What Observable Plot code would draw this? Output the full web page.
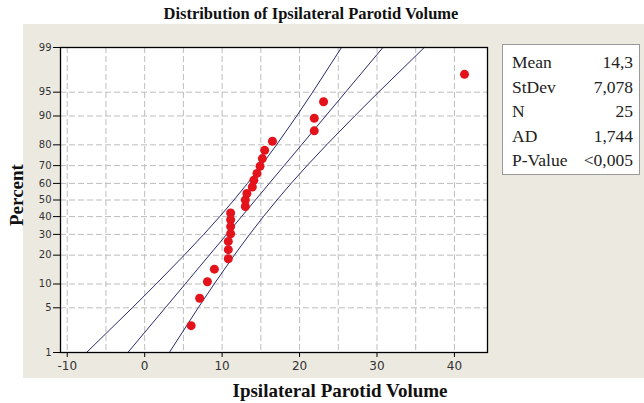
<!DOCTYPE html>
<html>
<head>
<meta charset="utf-8">
<script src="https://cdn.jsdelivr.net/npm/d3@7"></script>
<script src="https://cdn.jsdelivr.net/npm/@observablehq/plot@0.6"></script>
<style>
  html, body { margin: 0; padding: 0; background: #ffffff; }
  #wrap { position: relative; width: 644px; height: 403px; overflow: hidden; background: #ffffff; }
  #panel { position: absolute; left: 23px; top: 24px; width: 621px; height: 354px; background: #ece9e0; }
  #chart { position: absolute; left: 0; top: 0; }
  .ttl { position: absolute; font-family: "Liberation Serif", "DejaVu Serif", serif; font-weight: bold; color: #111; white-space: nowrap; }
  #stats { position: absolute; left: 502px; top: 44px; width: 138px; height: 131px; background: #fff; border: 1px solid #9a9a9a; box-sizing: border-box;
           font-family: "Liberation Serif", "DejaVu Serif", serif; font-size: 17.5px; color: #222; }
  #stats .row { position: absolute; left: 9px; right: 6px; height: 22px; line-height: 22px; }
  #stats .row span.l { position: absolute; left: 0; }
  #stats .row span.v { position: absolute; right: 0; }
</style>
</head>
<body>
<div id="wrap">
  <div id="panel"></div>
  <div id="chart"></div>
  <div class="ttl" id="title" style="left:0; width:622px; top:4px; font-size:16.5px; text-align:center;">Distribution of Ipsilateral Parotid Volume</div>
  <div class="ttl" id="xlab" style="left:0; width:680px; top:380px; font-size:19px; text-align:center;">Ipsilateral Parotid Volume</div>
  <div class="ttl" id="ylab" style="left:-13px; top:185px; width:60px; font-size:19px; text-align:center; transform: rotate(-90deg);">Percent</div>
  <div id="stats"></div>
</div>
<script>
// ---- data ----
const volumes = [6.0, 7.1, 8.1, 9.0, 10.8, 10.8, 10.8, 11.1, 11.1, 11.1, 11.1, 13.0, 13.0, 13.2, 13.9, 14.1, 14.5, 14.9, 15.2, 15.5, 16.5, 21.9, 21.9, 23.1, 41.3];
const percents = [2.76, 6.69, 10.63, 14.57, 18.50, 22.44, 26.38, 30.31, 34.25, 38.19, 42.13, 46.06, 50.00, 53.94, 57.87, 61.81, 65.75, 69.69, 73.62, 77.56, 81.50, 85.43, 89.37, 93.31, 97.24];

// fitted line and 95% confidence band, at the percent tick levels
const bandPercents = [1, 5, 10, 20, 30, 40, 50, 60, 70, 80, 90, 95, 99];
const fitLine  = [-2.17, 2.66, 5.23, 8.34, 10.59, 12.51, 14.30, 16.09, 18.01, 20.26, 23.37, 25.94, 30.77];
const bandLow  = [-7.51, -1.60, 1.48, 5.11, 7.63, 9.69, 11.53, 13.27, 15.05, 17.03, 19.63, 21.69, 25.42];
const bandHigh = [3.18, 6.91, 8.97, 11.57, 13.55, 15.33, 17.08, 18.91, 20.97, 23.49, 27.12, 30.20, 36.11];

const yTickLabels = [1, 5, 10, 20, 30, 40, 50, 60, 70, 80, 90, 95, 99];
const xTickValues = [-10, 0, 10, 20, 30, 40];
const xGridValues = [-10, -5, 0, 5, 10, 15, 20, 25, 30, 35, 40];

const statLabels = ["Mean", "StDev", "N", "AD", "P-Value"];
const statValues = ["14,3", "7,078", "25", "1,744", "<0,005"];

// ---- normal probability axis (inverse normal CDF, Acklam) ----
function probit(p) {
  const a = [-3.969683028665376e+01, 2.209460984245205e+02, -2.759285104469687e+02, 1.383577518672690e+02, -3.066479806614716e+01, 2.506628277459239e+00];
  const b = [-5.447609879822406e+01, 1.615858368580409e+02, -1.556989798598866e+02, 6.680131188771972e+01, -1.328068155288572e+01];
  const c = [-7.784894002430293e-03, -3.223964580411365e-01, -2.400758277161838e+00, -2.549732539343734e+00, 4.374664141464968e+00, 2.938163982698783e+00];
  const d = [7.784695709041462e-03, 3.224671290700398e-01, 2.445134137142996e+00, 3.754408661907416e+00];
  const pl = 0.02425, ph = 1 - pl;
  let q, r;
  if (p < pl) { q = Math.sqrt(-2 * Math.log(p)); return (((((c[0]*q+c[1])*q+c[2])*q+c[3])*q+c[4])*q+c[5]) / ((((d[0]*q+d[1])*q+d[2])*q+d[3])*q+1); }
  if (p > ph) { q = Math.sqrt(-2 * Math.log(1 - p)); return -(((((c[0]*q+c[1])*q+c[2])*q+c[3])*q+c[4])*q+c[5]) / ((((d[0]*q+d[1])*q+d[2])*q+d[3])*q+1); }
  q = p - 0.5; r = q * q;
  return (((((a[0]*r+a[1])*r+a[2])*r+a[3])*r+a[4])*r+a[5])*q / (((((b[0]*r+b[1])*r+b[2])*r+b[3])*r+b[4])*r+1);
}
const py = (pct) => probit(pct / 100);

const points = volumes.map((v, i) => ({x: v, y: py(percents[i])}));
const mkLine = (arr) => arr.map((v, i) => ({x: v, y: py(bandPercents[i])}));
const yTickPos = yTickLabels.map(py);

const gridStyle = {stroke: "#bdbdbd", strokeOpacity: 1, strokeWidth: 1, strokeDasharray: "6,3"};
const lineStyle = {x: "x", y: "y", stroke: "#2b2b6e", strokeWidth: 1};

const plot = Plot.plot({
  width: 644,
  height: 403,
  marginLeft: 60,
  marginRight: 157,
  marginTop: 47,
  marginBottom: 51,
  style: {background: "transparent", fontFamily: "'DejaVu Sans', sans-serif", fontSize: "11px", color: "#333"},
  x: {domain: [-10.87, 44.27]},
  y: {domain: [py(1), py(99)]},
  marks: [
    Plot.frame({fill: "#ffffff"}),
    Plot.gridX(xGridValues, gridStyle),
    Plot.gridY(yTickPos, gridStyle),
    Plot.line(mkLine(bandLow), lineStyle),
    Plot.line(mkLine(fitLine), lineStyle),
    Plot.line(mkLine(bandHigh), lineStyle),
    Plot.dot(points, {x: "x", y: "y", r: 4.5, fill: "#e3121b", stroke: "none"}),
    Plot.frame({stroke: "#000", strokeWidth: 1.3}),
    Plot.axisX(xTickValues, {tickSize: 5, tickPadding: 4, label: null, stroke: "#000", fill: "#333", fontSize: 12,
      tickFormat: (v) => String(v)}),
    Plot.axisY(yTickPos, {tickSize: 7, tickPadding: 2, label: null, stroke: "#000", fill: "#333", fontSize: 10,
      tickFormat: (v) => yTickLabels[yTickPos.findIndex(t => Math.abs(t - v) < 1e-9)]})
  ]
});
document.getElementById("chart").appendChild(plot);

const stats = document.getElementById("stats");
statLabels.forEach((lab, i) => {
  const row = document.createElement("div");
  row.className = "row";
  row.style.top = (6 + i * 24.5) + "px";
  row.innerHTML = `<span class="l">${lab}</span><span class="v">${statValues[i]}</span>`;
  stats.appendChild(row);
});
</script>
</body>
</html>
